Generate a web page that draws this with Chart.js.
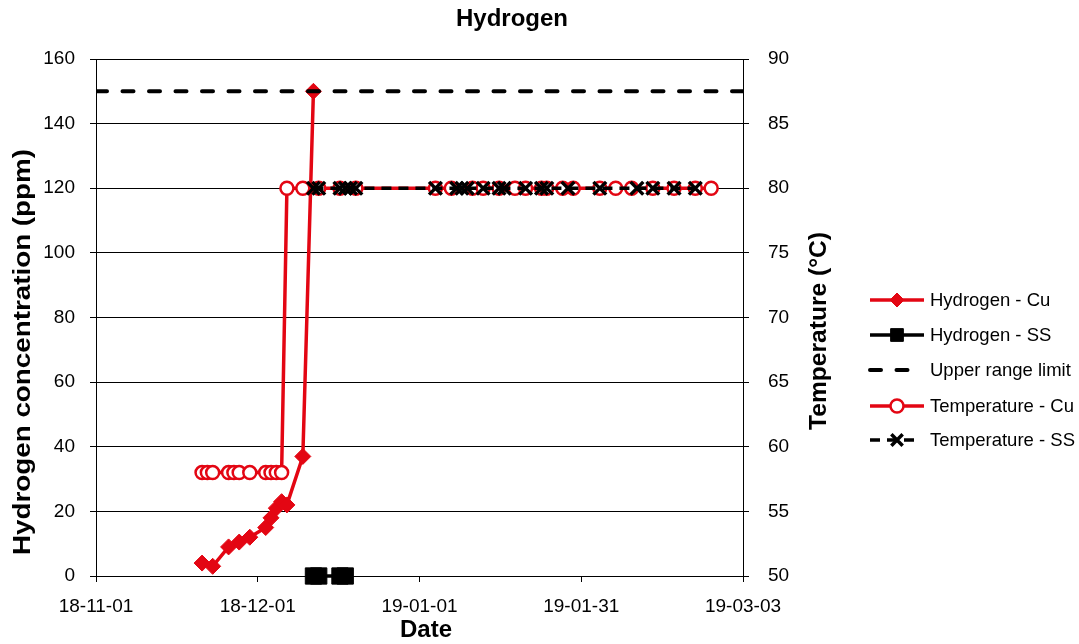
<!DOCTYPE html>
<html>
<head>
<meta charset="utf-8">
<title>Hydrogen</title>
<script src="https://cdn.jsdelivr.net/npm/chart.js@4/dist/chart.umd.min.js"></script>
<style>
  body { margin: 0; background: #fff; }
  canvas { display: block; }
</style>
</head>
<body>
<canvas id="hydrogenChart" width="1079" height="644"></canvas>
<script>
// x axis runs from 2018-11-01 to 2019-03-03, Excel-style major unit of 30.5 days
const startDate = "2018-11-01";
const endDate = "2019-03-03";
const dayStep = 30.5;

const h2LeftTicks = [0, 20, 40, 60, 80, 100, 120, 140, 160];
const tempRightTicks = [50, 55, 60, 65, 70, 75, 80, 85, 90];

// Hydrogen - Cu (ppm)
const h2CuDates = ["2018-11-21", "2018-11-23", "2018-11-26", "2018-11-28", "2018-11-30", "2018-12-03",
    "2018-12-04", "2018-12-05", "2018-12-06", "2018-12-07", "2018-12-10", "2018-12-12"];
const h2CuValues = [4, 3, 9, 10.5, 12, 15, 18, 21, 23, 22, 37, 150];

// Hydrogen - SS (ppm)
const h2SsDates = ["2018-12-12", "2018-12-13", "2018-12-17", "2018-12-18"];
const h2SsValues = [0, 0, 0, 0];

// Upper range limit (ppm)
const limitDates = [startDate, endDate];
const limitValues = [150, 150];

// Temperature - Cu (°C)
const tempCuDates = ["2018-11-21", "2018-11-22", "2018-11-23", "2018-11-26", "2018-11-27", "2018-11-28",
    "2018-11-30", "2018-12-03", "2018-12-04", "2018-12-05", "2018-12-06",
    "2018-12-07", "2018-12-10", "2018-12-13", "2018-12-17", "2018-12-20",
    "2019-01-04", "2019-01-07", "2019-01-11", "2019-01-13", "2019-01-16", "2019-01-19",
    "2019-01-21", "2019-01-24", "2019-01-25", "2019-01-28", "2019-01-30",
    "2019-02-04", "2019-02-07", "2019-02-10", "2019-02-14", "2019-02-18", "2019-02-22", "2019-02-25"];
const tempCuValues = [58, 58, 58, 58, 58, 58, 58, 58, 58, 58, 58,
    80, 80, 80, 80, 80,
    80, 80, 80, 80, 80, 80,
    80, 80, 80, 80, 80,
    80, 80, 80, 80, 80, 80, 80];

// Temperature - SS (°C)
const tempSsDates = ["2018-12-12", "2018-12-13", "2018-12-17", "2018-12-18", "2018-12-19", "2018-12-20",
    "2019-01-04", "2019-01-08", "2019-01-09", "2019-01-10", "2019-01-13", "2019-01-16", "2019-01-17",
    "2019-01-21", "2019-01-24", "2019-01-25", "2019-01-29",
    "2019-02-04", "2019-02-11", "2019-02-14", "2019-02-18", "2019-02-22"];
const tempSsValues = [80, 80, 80, 80, 80, 80,
    80, 80, 80, 80, 80, 80, 80,
    80, 80, 80, 80,
    80, 80, 80, 80, 80];

const red = "#e30613";
const dayMs = 86400000;
const fontFamily = "'Liberation Sans', Arial, sans-serif";

function toDay(s) {
    return (Date.parse(s) - Date.parse(startDate)) / dayMs;
}

function pairUp(dates, values) {
    return dates.map((d, i) => ({ x: toDay(d), y: values[i] }));
}

function fmtDate(day) {
    let d = new Date(Date.parse(startDate) + Math.floor(day + 1e-6) * dayMs);
    let yy = String(d.getUTCFullYear()).slice(2);
    let mm = String(d.getUTCMonth() + 1).padStart(2, "0");
    let dd = String(d.getUTCDate()).padStart(2, "0");
    return yy + "-" + mm + "-" + dd;
}

const datasets = [
    {
        label: "Hydrogen - Cu",
        data: pairUp(h2CuDates, h2CuValues),
        yAxisID: "y",
        order: 5,
        borderColor: red,
        borderWidth: 3.5,
        pointStyle: "rectRot",
        pointRadius: 8,
        pointBackgroundColor: red,
        pointBorderColor: red,
        pointBorderWidth: 1,
    },
    {
        label: "Hydrogen - SS",
        data: pairUp(h2SsDates, h2SsValues),
        yAxisID: "y",
        order: 4,
        clip: false,
        borderColor: "#000",
        borderWidth: 3.5,
        pointStyle: "rect",
        pointRadius: 11.5,
        pointBackgroundColor: "#000",
        pointBorderColor: "#000",
        pointBorderWidth: 1,
    },
    {
        label: "Upper range limit",
        data: pairUp(limitDates, limitValues),
        yAxisID: "y",
        order: 3,
        borderColor: "#000",
        borderWidth: 4,
        borderDash: [11, 15.5],
        borderCapStyle: "round",
        pointRadius: 0,
    },
    {
        label: "Temperature - Cu",
        data: pairUp(tempCuDates, tempCuValues),
        yAxisID: "y2",
        order: 2,
        borderColor: red,
        borderWidth: 3.5,
        pointStyle: "circle",
        pointRadius: 6.5,
        pointBackgroundColor: "#fff",
        pointBorderColor: red,
        pointBorderWidth: 2.5,
    },
    {
        label: "Temperature - SS",
        data: pairUp(tempSsDates, tempSsValues),
        yAxisID: "y2",
        order: 1,
        borderColor: "#000",
        borderWidth: 3.5,
        borderDash: [10, 7],
        pointStyle: "crossRot",
        pointRadius: 9,
        pointBorderColor: "#000",
        pointBorderWidth: 3.5,
    },
];

// draw text, optionally squeezed/stretched to a given length like the Excel export
function drawLabel(ctx, text, x, y, angle, length) {
    ctx.save();
    ctx.translate(x, y);
    ctx.rotate(angle);
    if (length) {
        let w = ctx.measureText(text).width;
        ctx.scale(length / w, 1);
    }
    ctx.fillText(text, 0, 0);
    ctx.restore();
}

// titles and the Excel-like legend (line with the marker sitting on it)
const decorations = {
    id: "decorations",
    afterDraw(chart) {
        const ctx = chart.ctx;
        ctx.save();
        ctx.fillStyle = "#000";
        ctx.textAlign = "center";
        ctx.textBaseline = "middle";

        ctx.font = "bold 24px " + fontFamily;
        drawLabel(ctx, "Hydrogen", 512, 19, 0, 112);
        drawLabel(ctx, "Date", 426, 630, 0, 52);
        drawLabel(ctx, "Hydrogen concentration (ppm)", 23, 352, -Math.PI / 2, 406);
        drawLabel(ctx, "Temperature (°C)", 819, 331, -Math.PI / 2, 198);

        const rowsY = [300, 335, 370, 406, 440];
        const legendSizes = [7, 9, 0, 6.5, 8];
        ctx.font = "18.5px " + fontFamily;
        ctx.textAlign = "left";
        chart.data.datasets.forEach((ds, i) => {
            const y = rowsY[i];
            const dashed = !!ds.borderDash;
            ctx.save();
            ctx.strokeStyle = ds.borderColor;
            ctx.lineWidth = ds.borderWidth;
            ctx.lineCap = ds.borderCapStyle || "butt";
            ctx.setLineDash(ds.borderDash || []);
            ctx.beginPath();
            ctx.moveTo(870, y);
            ctx.lineTo(dashed ? 914 : 924, y);
            ctx.stroke();
            ctx.restore();

            if (ds.pointRadius > 0) {
                ctx.save();
                ctx.fillStyle = ds.pointBackgroundColor || "#000";
                ctx.strokeStyle = ds.pointBorderColor;
                ctx.lineWidth = ds.pointBorderWidth;
                Chart.helpers.drawPoint(ctx, {
                    pointStyle: ds.pointStyle,
                    radius: legendSizes[i],
                    borderWidth: ds.pointBorderWidth,
                    rotation: 0,
                }, 897, y);
                ctx.restore();
            }
            ctx.fillStyle = "#000";
            drawLabel(ctx, ds.label, 930, y + 1, 0, null);
        });
        ctx.restore();
    },
};

const tickFont = { family: fontFamily, size: 19 };

const ctx = document.getElementById("hydrogenChart").getContext("2d");
const hydrogenChart = new Chart(ctx, {
    type: "line",
    data: { datasets: datasets },
    plugins: [decorations],
    options: {
        responsive: false,
        animation: false,
        events: [],
        layout: { padding: { top: 59, left: 0, right: 0, bottom: 0 } },
        elements: { line: { tension: 0 } },
        plugins: {
            legend: { display: false },
            tooltip: { enabled: false },
        },
        scales: {
            x: {
                type: "linear",
                min: toDay(startDate),
                max: toDay(endDate),
                afterFit(scale) { scale.height = 68; },
                afterBuildTicks(scale) {
                    let ticks = [];
                    for (let v = scale.min; v <= scale.max + 1e-6; v += dayStep) ticks.push({ value: v });
                    scale.ticks = ticks;
                },
                ticks: {
                    color: "#000",
                    font: tickFont,
                    padding: 13,
                    maxRotation: 0,
                    autoSkip: false,
                    callback: (v) => fmtDate(v),
                },
                grid: { drawOnChartArea: false, drawTicks: true, tickLength: 6, color: "#000", tickColor: "#000" },
                border: { display: true, color: "#000", width: 1 },
            },
            y: {
                position: "left",
                min: h2LeftTicks[0],
                max: h2LeftTicks[h2LeftTicks.length - 1],
                afterFit(scale) { scale.width = 96; },
                afterBuildTicks(scale) { scale.ticks = h2LeftTicks.map((v) => ({ value: v })); },
                ticks: { color: "#000", font: tickFont, padding: 15 },
                grid: { color: "#000", lineWidth: 1, tickLength: 6, tickColor: "#000" },
                border: { display: true, color: "#000", width: 1 },
            },
            y2: {
                position: "right",
                min: tempRightTicks[0],
                max: tempRightTicks[tempRightTicks.length - 1],
                afterFit(scale) { scale.width = 1079 - 743; },
                afterBuildTicks(scale) { scale.ticks = tempRightTicks.map((v) => ({ value: v })); },
                ticks: { color: "#000", font: tickFont, padding: 19 },
                grid: { drawOnChartArea: false, tickLength: 6, color: "#000", tickColor: "#000" },
                border: { display: true, color: "#000", width: 1 },
            },
        },
    },
});
</script>
</body>
</html>
